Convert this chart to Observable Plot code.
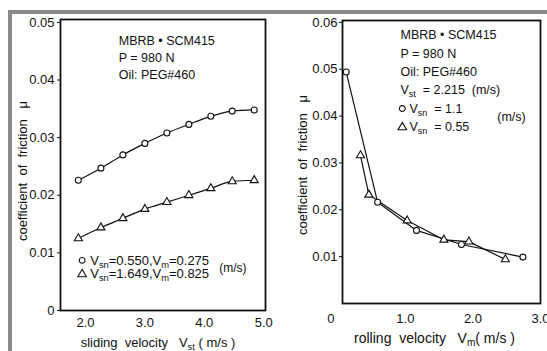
<!DOCTYPE html>
<html><head><meta charset="utf-8">
<script src="https://cdn.jsdelivr.net/npm/d3@7"></script>
<script src="https://cdn.jsdelivr.net/npm/@observablehq/plot@0.6"></script>
<style>
html,body{margin:0;padding:0;background:#fff;}
#wrap{position:relative;width:547px;height:351px;overflow:hidden;background:#fff;}
#p1{position:absolute;left:0;top:0;}
#p2{position:absolute;left:280px;top:0;}
#topbar{position:absolute;left:8px;top:10px;width:539px;height:4px;background:#8a8a8a;}
#leftbar{position:absolute;left:8px;top:10px;width:4px;height:341px;background:#8a8a8a;}
</style></head><body>
<div id="wrap"><div id="p1"></div><div id="p2"></div><div id="topbar"></div><div id="leftbar"></div></div>
<script>
// ---- Left panel data: friction vs sliding velocity ----
const slidingVelocity = [1.88, 2.26, 2.63, 3.0, 3.37, 3.74, 4.11, 4.47, 4.84];
const muLeftCircle   = [0.0226, 0.0247, 0.0270, 0.0290, 0.0308, 0.0323, 0.0337, 0.0346, 0.0348];
const muLeftTriangle = [0.0125, 0.0144, 0.0160, 0.0176, 0.0188, 0.0200, 0.0212, 0.0224, 0.0226];
const leftXTicks = [2, 3, 4, 5];
const leftYTicks = [0, 0.01, 0.02, 0.03, 0.04, 0.05];
const leftNotes = ["MBRB • SCM415", "P = 980 N", "Oil: PEG#460"];
const leftLegend = ["V_{sn}=0.550,V_{m}=0.275", "V_{sn}=1.649,V_{m}=0.825"];

// ---- Right panel data: friction vs rolling velocity ----
const rollingCircle = [0.125, 0.59, 1.165, 1.83, 2.74];
const muRightCircle = [0.0494, 0.0216, 0.0156, 0.0126, 0.0099];
const rollingTriangle = [0.336, 0.46, 1.027, 1.57, 1.94, 2.48];
const muRightTriangle = [0.0316, 0.0232, 0.0177, 0.0136, 0.0132, 0.0094];
const rightXTicks = [1, 2, 3];
const rightYTicks = [0.01, 0.02, 0.03, 0.04, 0.05, 0.06];
const rightNotes = ["MBRB • SCM415", "P = 980 N", "Oil: PEG#460", "V_{st}  = 2.215  (m/s)"];
const rightLegend = ["V_{sn}  = 1.1", "V_{sn}  = 0.55"];

const unitLabel = "(m/s)";
const yTitle = "coefficient  of  friction   μ";
const leftXTitle = "sliding  velocity   V_{st} ( m/s )";
const rightXTitle = "rolling  velocity   V_{m}( m/s )";

const INK = "#111";
const FONT = "Liberation Sans, Arial, sans-serif";

const L = {
  left: slidingVelocity.map((x, i) => ({x, y: muLeftCircle[i]})),
  leftT: slidingVelocity.map((x, i) => ({x, y: muLeftTriangle[i]})),
  rightC: rollingCircle.map((x, i) => ({x, y: muRightCircle[i]})),
  rightT: rollingTriangle.map((x, i) => ({x, y: muRightTriangle[i]}))
};

function subs(svg) {
  svg.querySelectorAll("text").forEach(t => {
    const s = t.textContent;
    if (!s.includes("_{")) return;
    while (t.firstChild) t.removeChild(t.firstChild);
    const parts = s.split(/(_\{[^}]*\})/);
    let shifted = false;
    parts.forEach(p => {
      if (!p) return;
      const ts = document.createElementNS("http://www.w3.org/2000/svg", "tspan");
      if (p.startsWith("_{")) {
        ts.textContent = p.slice(2, -1);
        ts.setAttribute("font-size", "0.72em");
        ts.setAttribute("dy", "3");
        shifted = true;
      } else {
        ts.textContent = p;
        if (shifted) { ts.setAttribute("dy", "-3"); shifted = false; }
      }
      t.appendChild(ts);
    });
  });
}

const fmt = d => d === 0 ? "0" : d.toFixed(2);
const dotStyle = {fill: "white", stroke: INK, strokeWidth: 1.1};

// ---------- Left plot ----------
const p1 = Plot.plot({
  width: 280, height: 351,
  marginLeft: 60, marginRight: 15, marginTop: 19, marginBottom: 41,
  style: {fontFamily: FONT, color: INK, background: "transparent"},
  x: {domain: [1.58, 5.03]},
  y: {domain: [0, 0.0505]},
  marks: [
    Plot.axisX({ticks: leftXTicks, tickFormat: d => d.toFixed(1), tickSize: 0, tickPadding: 7, fontSize: 13, label: null}),
    Plot.axisY({ticks: leftYTicks, tickFormat: fmt, tickSize: 3, tickPadding: 3, fontSize: 13, label: null}),
    Plot.line(L.left, {x: "x", y: "y", stroke: INK, strokeWidth: 1.2, curve: "monotone-x"}),
    Plot.line(L.leftT, {x: "x", y: "y", stroke: INK, strokeWidth: 1.2, curve: "monotone-x"}),
    Plot.dot(L.left, {x: "x", y: "y", r: 3, symbol: "circle", ...dotStyle}),
    Plot.dot(L.leftT, {x: "x", y: "y", r: 3, symbol: "triangle", ...dotStyle}),
    Plot.text(leftNotes, {x: 2.56, y: (d, i) => 0.0467 - i * 0.0029, text: d => d, textAnchor: "start", fontSize: 12.5, fill: INK}),
    Plot.dot([0, 1], {x: 1.944, y: (d, i) => 0.0087 - i * 0.0024, r: (d, i) => i ? 2.6 : 2.2, symbol: (d, i) => i ? "triangle" : "circle", ...dotStyle}),
    Plot.text(leftLegend, {x: 2.08, y: (d, i) => 0.0087 - i * 0.0024, text: d => d, textAnchor: "start", fontSize: 13, fill: INK}),
    Plot.text([unitLabel], {x: 4.25, y: 0.0073, text: d => d, textAnchor: "start", fontSize: 12, fill: INK}),
    Plot.text([yTitle], {frameAnchor: "left", rotate: -90, dx: -38, dy: 6, textAnchor: "middle", lineAnchor: "middle", text: d => d, fontSize: 13, fill: INK}),
    Plot.text([leftXTitle], {frameAnchor: "bottom", dy: 32, dx: -5, textAnchor: "middle", lineAnchor: "middle", text: d => d, fontSize: 13, fill: INK}),
    Plot.frame({stroke: "#111", strokeWidth: 1.8})
  ]
});
subs(p1);
document.getElementById("p1").appendChild(p1);

// ---------- Right plot ----------
const p2 = Plot.plot({
  width: 267, height: 351,
  marginLeft: 62, marginRight: 7, marginTop: 20, marginBottom: 48,
  style: {fontFamily: FONT, color: INK, background: "transparent"},
  x: {domain: [0.07, 3.0]},
  y: {domain: [0, 0.0604]},
  marks: [
    Plot.axisX({ticks: rightXTicks, tickFormat: d => d.toFixed(1), tickSize: 0, tickPadding: 10, fontSize: 13, label: null}),
    Plot.axisY({ticks: rightYTicks, tickFormat: fmt, tickSize: 3, tickPadding: 2, fontSize: 13, label: null}),
    Plot.text(["0"], {x: 0, y: 0, dx: -7, dy: 15, text: d => d, fontSize: 13, fill: INK}),
    Plot.line(L.rightC, {x: "x", y: "y", stroke: INK, strokeWidth: 1.2}),
    Plot.line(L.rightT, {x: "x", y: "y", stroke: INK, strokeWidth: 1.2}),
    Plot.dot(L.rightC, {x: "x", y: "y", r: 3, symbol: "circle", ...dotStyle}),
    Plot.dot(L.rightT, {x: "x", y: "y", r: 3, symbol: "triangle", ...dotStyle}),
    Plot.text(rightNotes, {x: 0.928, y: (d, i) => 0.0572 - i * 0.0039, text: d => d, textAnchor: "start", fontSize: 12.5, fill: INK}),
    Plot.dot([0, 1], {x: 0.955, y: (d, i) => 0.0416 - i * 0.004, r: (d, i) => i ? 2.6 : 2.2, symbol: (d, i) => i ? "triangle" : "circle", ...dotStyle}),
    Plot.text(rightLegend, {x: 1.06, y: (d, i) => 0.0416 - i * 0.004, text: d => d, textAnchor: "start", fontSize: 12.5, fill: INK}),
    Plot.text([unitLabel], {x: 2.36, y: 0.0399, text: d => d, textAnchor: "start", fontSize: 12.5, fill: INK}),
    Plot.text([yTitle], {frameAnchor: "left", rotate: -90, dx: -40, dy: 3, textAnchor: "middle", lineAnchor: "middle", text: d => d, fontSize: 13, fill: INK}),
    Plot.text([rightXTitle], {frameAnchor: "bottom", dy: 35, dx: -7, textAnchor: "middle", lineAnchor: "middle", text: d => d, fontSize: 14, fill: INK}),
    Plot.frame({stroke: "#111", strokeWidth: 1.8})
  ]
});
subs(p2);
document.getElementById("p2").appendChild(p2);
</script>
</body></html>
